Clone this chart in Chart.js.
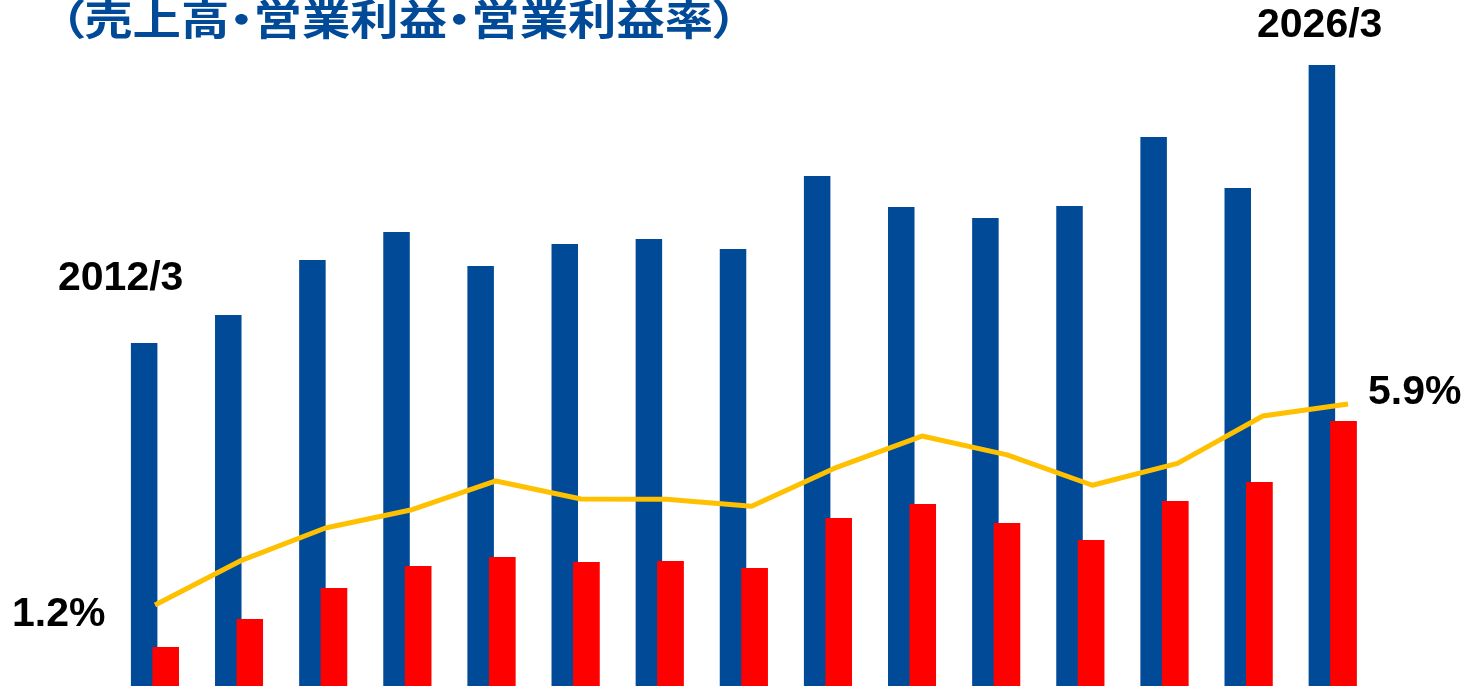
<!DOCTYPE html>
<html lang="ja">
<head>
<meta charset="utf-8">
<title>売上高・営業利益・営業利益率</title>
<script src="https://cdn.jsdelivr.net/npm/chart.js@4.4.1/dist/chart.umd.min.js"></script>
<style>
  html, body { margin: 0; padding: 0; background: #ffffff; overflow: hidden; }
  #wrap { position: relative; width: 1465px; height: 686px; overflow: hidden; }
  #c { position: absolute; left: 0; top: 0; }
  .lbl { position: absolute; white-space: nowrap; font-family: "Liberation Sans", Arial, sans-serif;
         font-weight: bold; font-size: 41px; line-height: 41px; color: #000; }
  #title { position: absolute; left: 60px; top: -4px; white-space: nowrap;
           font-family: "Noto Sans CJK JP", sans-serif; font-weight: bold; font-size: 48.4px; line-height: 48px;
           color: #004a98; font-feature-settings: "palt" 1; transform: scaleY(0.86); transform-origin: left top; }
</style>
</head>
<body>
<div id="wrap">
  <canvas id="c" width="1465" height="686"></canvas>
  <div id="title">（売上高・営業利益・営業利益率）</div>
  <div class="lbl" id="lFirstYear" style="left:58px; top:256px;">2012/3</div>
  <div class="lbl" id="lLastYear" style="left:1257px; top:3px;">2026/3</div>
  <div class="lbl" id="lFirstRate" style="left:12px; top:592px;">1.2%</div>
  <div class="lbl" id="lLastRate" style="left:1368px; top:370px;">5.9%</div>
</div>
<script>
// ---- data ----
const categories = ['2012/3','2013/3','2014/3','2015/3','2016/3','2017/3','2018/3','2019/3',
                    '2020/3','2021/3','2022/3','2023/3','2024/3','2025/3','2026/3'];
// 売上高 (relative units)
const sales  = [3430, 3710, 4260, 4540, 4200, 4420, 4470, 4370, 5100, 4790, 4680, 4800, 5490, 4980, 6210];
// 営業利益 (relative units)
const profit = [39, 67, 98, 120, 129, 124, 125, 118, 168, 182, 163, 146, 185, 204, 265];
// 営業利益率 (%)
const margin = [1.2, 2.23, 3.0, 3.42, 4.1, 3.68, 3.67, 3.51, 4.42, 5.15, 4.71, 4.0, 4.51, 5.62, 5.9];

const marginPoints = margin.map((v, i) => ({ x: i, y: v }));

const LINE = 0, SALES = 1, PROFIT = 2;

// draw the profit bars again right after the sales bars so red sits on top where they overlap
const redOnTop = {
  id: 'redOnTop',
  afterDatasetDraw(chart, args) {
    if (args.index === SALES) {
      const meta = chart.getDatasetMeta(PROFIT);
      if (meta.visible !== false) meta.controller.draw();
    }
  }
};

new Chart(document.getElementById('c'), {
  type: 'bar',
  data: {
    labels: categories,
    datasets: [
      { label: '営業利益率', type: 'line', data: marginPoints, xAxisID: 'x2', yAxisID: 'y3',
        borderColor: '#ffc000', borderWidth: 5, pointRadius: 0, tension: 0,
        borderCapStyle: 'butt', borderJoinStyle: 'round', fill: false, order: 0 },
      { label: '売上高', data: sales, yAxisID: 'y', backgroundColor: '#004a98',
        categoryPercentage: 1.0223, barPercentage: 1.233, order: 1 },
      { label: '営業利益', data: profit, yAxisID: 'y2', backgroundColor: '#ff0000',
        categoryPercentage: 1.0223, barPercentage: 1.233, order: 2 }
    ]
  },
  options: {
    responsive: false,
    animation: false,
    devicePixelRatio: 1,
    layout: { padding: { left: 112.84, right: 90.3, top: 0, bottom: 0 } },
    plugins: { legend: { display: false }, tooltip: { enabled: false }, title: { display: false } },
    scales: {
      x:  { type: 'category', display: false, offset: true },
      x2: { type: 'linear', display: false, min: -0.4948, max: 14.313, offset: false, grid: { offset: false } },
      y:  { display: false, min: 0, max: 6860 },
      y2: { display: false, min: 0, max: 686 },
      y3: { display: false, min: -0.694, max: 15.346 }
    }
  },
  plugins: [redOnTop]
});
</script>
</body>
</html>
